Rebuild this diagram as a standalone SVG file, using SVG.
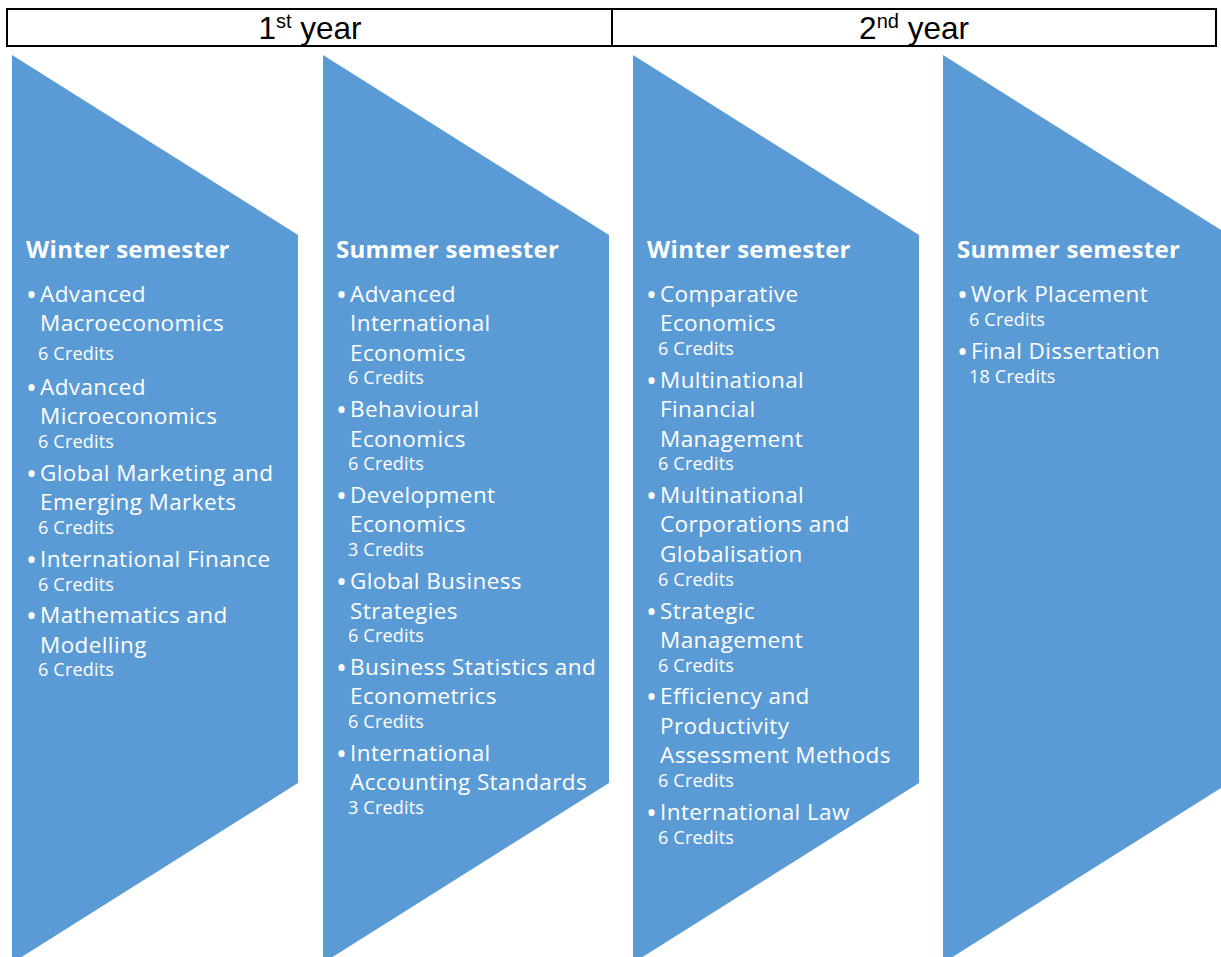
<svg xmlns="http://www.w3.org/2000/svg" width="1221" height="957" viewBox="0 0 1221 957">
<style>
.hdr{font-family:"Liberation Sans",Arial,sans-serif;font-size:31.5px;fill:#000}
.sup{font-size:20px}
.chev{fill:#5B9BD5}
.t{font-family:"Open Sans","Noto Sans",sans-serif;font-weight:bold;font-size:24px;letter-spacing:0.3px;fill:#fff}
.i{font-family:"Open Sans","Noto Sans",sans-serif;font-size:22.5px;letter-spacing:0.4px;fill:#fff}
.b{font-family:"Open Sans","Noto Sans",sans-serif;font-size:29px;fill:#fff}
.c{font-family:"Open Sans","Noto Sans",sans-serif;font-size:18px;letter-spacing:0.2px;fill:#fff}
</style>
<g id="header">
<rect x="7" y="9" width="1209" height="37" fill="#fff" stroke="#000" stroke-width="2"/>
<line x1="612" y1="9" x2="612" y2="46" stroke="#000" stroke-width="2"/>
<text class="hdr" x="310" y="39" text-anchor="middle">1<tspan class="sup" dy="-11">st</tspan><tspan dy="11"> year</tspan></text>
<text class="hdr" x="914" y="39" text-anchor="middle">2<tspan class="sup" dy="-11">nd</tspan><tspan dy="11"> year</tspan></text>
</g>
<g id="col1">
<polygon class="chev" points="12,55 298,235 298,783 12,963"/>
<text class="t" x="26" y="258">Winter semester</text>
<text class="b" x="26" y="305">•</text>
<text class="i" x="40" y="302">Advanced</text>
<text class="i" x="40" y="331">Macroeconomics</text>
<text class="c" x="38" y="360">6 Credits</text>
<text class="b" x="26" y="398">•</text>
<text class="i" x="40" y="395">Advanced</text>
<text class="i" x="40" y="424">Microeconomics</text>
<text class="c" x="38" y="448">6 Credits</text>
<text class="b" x="26" y="484">•</text>
<text class="i" x="40" y="481">Global Marketing and</text>
<text class="i" x="40" y="510">Emerging Markets</text>
<text class="c" x="38" y="534">6 Credits</text>
<text class="b" x="26" y="570">•</text>
<text class="i" x="40" y="567">International Finance</text>
<text class="c" x="38" y="591">6 Credits</text>
<text class="b" x="26" y="626">•</text>
<text class="i" x="40" y="623">Mathematics and</text>
<text class="i" x="40" y="653">Modelling</text>
<text class="c" x="38" y="676">6 Credits</text>
</g>
<g id="col2">
<polygon class="chev" points="323,55 609,235 609,783 323,963"/>
<text class="t" x="336" y="258">Summer semester</text>
<text class="b" x="336" y="305">•</text>
<text class="i" x="350" y="302">Advanced</text>
<text class="i" x="350" y="331">International</text>
<text class="i" x="350" y="361">Economics</text>
<text class="c" x="348" y="384">6 Credits</text>
<text class="b" x="336" y="420">•</text>
<text class="i" x="350" y="417">Behavioural</text>
<text class="i" x="350" y="447">Economics</text>
<text class="c" x="348" y="470">6 Credits</text>
<text class="b" x="336" y="506">•</text>
<text class="i" x="350" y="503">Development</text>
<text class="i" x="350" y="532">Economics</text>
<text class="c" x="348" y="556">3 Credits</text>
<text class="b" x="336" y="592">•</text>
<text class="i" x="350" y="589">Global Business</text>
<text class="i" x="350" y="619">Strategies</text>
<text class="c" x="348" y="642">6 Credits</text>
<text class="b" x="336" y="678">•</text>
<text class="i" x="350" y="675">Business Statistics and</text>
<text class="i" x="350" y="704">Econometrics</text>
<text class="c" x="348" y="728">6 Credits</text>
<text class="b" x="336" y="764">•</text>
<text class="i" x="350" y="761">International</text>
<text class="i" x="350" y="790">Accounting Standards</text>
<text class="c" x="348" y="814">3 Credits</text>
</g>
<g id="col3">
<polygon class="chev" points="633,55 919,235 919,783 633,963"/>
<text class="t" x="647" y="258">Winter semester</text>
<text class="b" x="646" y="305">•</text>
<text class="i" x="660" y="302">Comparative</text>
<text class="i" x="660" y="331">Economics</text>
<text class="c" x="658" y="355">6 Credits</text>
<text class="b" x="646" y="391">•</text>
<text class="i" x="660" y="388">Multinational</text>
<text class="i" x="660" y="417">Financial</text>
<text class="i" x="660" y="447">Management</text>
<text class="c" x="658" y="470">6 Credits</text>
<text class="b" x="646" y="506">•</text>
<text class="i" x="660" y="503">Multinational</text>
<text class="i" x="660" y="532">Corporations and</text>
<text class="i" x="660" y="562">Globalisation</text>
<text class="c" x="658" y="586">6 Credits</text>
<text class="b" x="646" y="622">•</text>
<text class="i" x="660" y="619">Strategic</text>
<text class="i" x="660" y="648">Management</text>
<text class="c" x="658" y="672">6 Credits</text>
<text class="b" x="646" y="707">•</text>
<text class="i" x="660" y="704">Efficiency and</text>
<text class="i" x="660" y="734">Productivity</text>
<text class="i" x="660" y="763">Assessment Methods</text>
<text class="c" x="658" y="787">6 Credits</text>
<text class="b" x="646" y="823">•</text>
<text class="i" x="660" y="820">International Law</text>
<text class="c" x="658" y="844">6 Credits</text>
</g>
<g id="col4">
<polygon class="chev" points="943,55 1229,235 1229,783 943,963"/>
<text class="t" x="957" y="258">Summer semester</text>
<text class="b" x="957" y="305">•</text>
<text class="i" x="971" y="302">Work Placement</text>
<text class="c" x="969" y="326">6 Credits</text>
<text class="b" x="957" y="362">•</text>
<text class="i" x="971" y="359">Final Dissertation</text>
<text class="c" x="969" y="383">18 Credits</text>
</g>
</svg>
